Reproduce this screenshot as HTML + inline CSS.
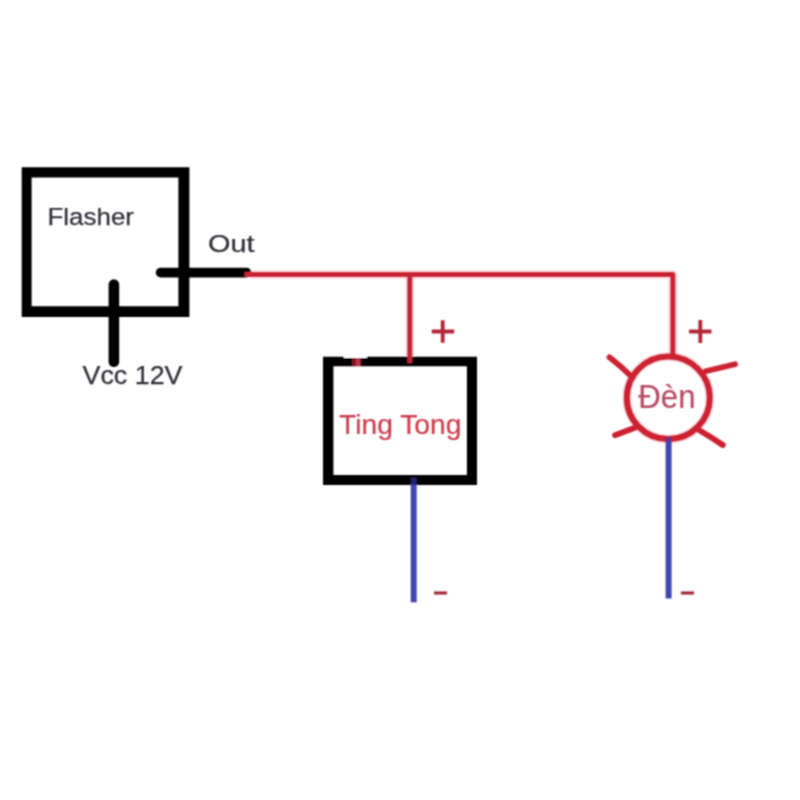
<!DOCTYPE html>
<html>
<head>
<meta charset="utf-8">
<style>
html,body{margin:0;padding:0;background:#ffffff;}
body{width:800px;height:800px;overflow:hidden;}
svg{display:block;}
text{font-family:"Liberation Sans",sans-serif;}
</style>
</head>
<body>
<svg width="800" height="800" viewBox="0 0 800 800">
<defs><filter id="soft" x="-5%" y="-5%" width="110%" height="110%"><feConvolveMatrix order="3" kernelMatrix="1 2 1 2 4 2 1 2 1" divisor="16" edgeMode="none" preserveAlpha="false"/></filter></defs>
<rect x="0" y="0" width="800" height="800" fill="#ffffff"/>
<g filter="url(#soft)">
<!-- Flasher box -->
<path d="M21.7 167.3 H189.4 V316.9 H21.7 Z M31.6 177.5 V306.3 H178.4 V177.5 Z" fill="#000" fill-rule="evenodd"/>
<!-- Vcc line -->
<line x1="113.9" y1="284.6" x2="113.9" y2="361.8" stroke="#000" stroke-width="10.6" stroke-linecap="round"/>
<!-- Out black wire -->
<line x1="160.6" y1="272.6" x2="246.6" y2="272.6" stroke="#000" stroke-width="9.7" stroke-linecap="round"/>
<!-- plus 1 -->
<path d="M431.7 331.5 H454.2 M442.7 320.3 V342.8" stroke="#b5283a" stroke-width="3.8"/>
<!-- Ting Tong box -->
<path d="M323 356.7 H477 V485 H323 Z M333.4 366.3 V475 H466.9 V366.3 Z" fill="#000" fill-rule="evenodd"/>
<rect x="343.8" y="355" width="23" height="3" fill="#fff"/>
<rect x="352" y="358" width="4" height="8" fill="#7a1422"/>
<rect x="356" y="358" width="4.6" height="8" fill="#c23348"/>
<!-- halo -->
<g fill="none" stroke="#f4a0b0" stroke-opacity="0.4" stroke-width="9" stroke-linejoin="round">
<polyline points="250,274.6 672.8,274.6 672.8,355"/>
<line x1="409.8" y1="274" x2="409.8" y2="356"/>
<ellipse cx="668.3" cy="397.8" rx="41.5" ry="41.3"/>
</g>
<!-- red main wire -->
<polyline points="244.5,274.6 672.8,274.6 672.8,355" fill="none" stroke="#cd2232" stroke-width="5.0" stroke-linejoin="round"/>
<!-- red down to Ting Tong -->
<line x1="409.8" y1="274" x2="409.8" y2="363" stroke="#c02838" stroke-width="5.0"/>
<!-- blue 1 -->
<line x1="413.7" y1="484" x2="413.7" y2="602.3" stroke="#4244b4" stroke-width="6"/>
<rect x="410.7" y="477.5" width="6" height="7" fill="#24246a"/>
<!-- minus 1 -->
<line x1="434" y1="593" x2="447" y2="593" stroke="#a02030" stroke-width="3"/>
<!-- plus 2 -->
<path d="M689 331.5 H711.5 M700.3 320 V343" stroke="#b5283a" stroke-width="3.8"/>
<!-- lamp circle -->
<ellipse cx="668.3" cy="397.8" rx="41.5" ry="41.3" fill="none" stroke="#cd2232" stroke-width="6.1"/>
<!-- rays -->
<path d="M609.5 357.2 Q622 367 632.5 377.5" fill="none" stroke="#cd2232" stroke-width="5.8" stroke-linecap="round"/>
<line x1="705.6" y1="371.2" x2="735" y2="364.2" stroke="#cd2232" stroke-width="5.8" stroke-linecap="round"/>
<line x1="615" y1="435.2" x2="635.5" y2="427.5" stroke="#cd2232" stroke-width="5.8" stroke-linecap="round"/>
<path d="M698.1 429.4 Q712 437.5 722.8 445" fill="none" stroke="#cd2232" stroke-width="5.8" stroke-linecap="round"/>
<!-- blue 2 -->
<line x1="668.6" y1="441" x2="668.6" y2="598.5" stroke="#4244b4" stroke-width="6"/>
<rect x="665.6" y="437.5" width="6" height="4" fill="#6a3088"/>
<!-- minus 2 -->
<line x1="681" y1="593" x2="694" y2="593" stroke="#a02030" stroke-width="3"/>
<!-- texts -->
<text x="47.5" y="225.2" font-size="24.5" fill="#30303a" stroke="#30303a" stroke-width="0.25" textLength="86.5" lengthAdjust="spacingAndGlyphs">Flasher</text>
<text x="208" y="251.8" font-size="24" fill="#30303a" stroke="#30303a" stroke-width="0.25" textLength="46.5" lengthAdjust="spacingAndGlyphs">Out</text>
<text x="82.5" y="383.5" font-size="26.2" fill="#30303a" stroke="#30303a" stroke-width="0.25" textLength="100" lengthAdjust="spacingAndGlyphs">Vcc 12V</text>
<text x="339" y="433.9" font-size="28" fill="#cc3a4c" stroke="#cc3a4c" stroke-width="0.15" textLength="122.5" lengthAdjust="spacingAndGlyphs">Ting Tong</text>
<text x="638.3" y="408.4" font-size="33" fill="#b84c64" stroke="#b84c64" stroke-width="0.15" textLength="57.3" lengthAdjust="spacingAndGlyphs">Đèn</text>
</g>
</svg>
</body>
</html>
